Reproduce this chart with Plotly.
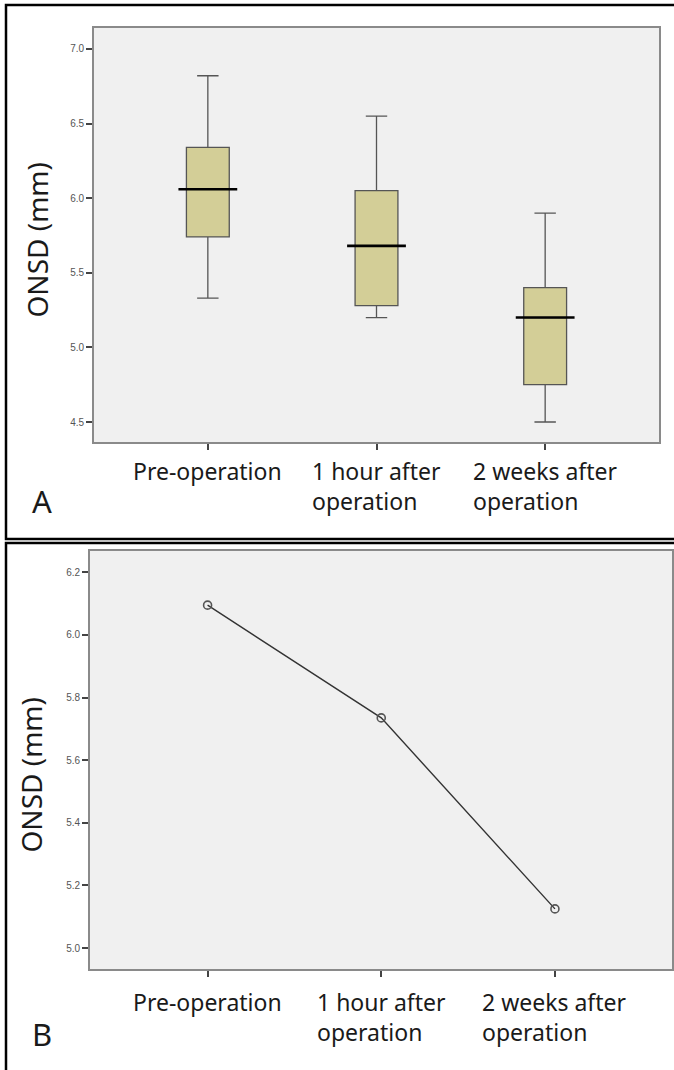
import plotly.graph_objects as go

# ---- data ----
categories = ["Pre-operation", "1 hour after operation", "2 weeks after operation"]
cat_labels = ["Pre-operation", "1 hour after<br>operation", "2 weeks after<br>operation"]

# Panel A: box plot summary statistics (mm)
box_upper = [6.82, 6.55, 5.90]
box_q3 = [6.34, 6.05, 5.40]
box_median = [6.06, 5.68, 5.20]
box_q1 = [5.74, 5.28, 4.75]
box_lower = [5.33, 5.20, 4.50]

# Panel B: mean ONSD (mm)
mean_onsd = [6.095, 5.735, 5.125]

W, H = 674, 1070


def px_x(p):
    return p / W


def px_y(p):
    return 1 - p / H


fig = go.Figure()

fig.add_trace(go.Box(
    x=categories, q1=box_q1, median=box_median, q3=box_q3,
    lowerfence=box_lower, upperfence=box_upper,
    fillcolor="#D3CE97", line=dict(color="#555555", width=1.3),
    width=0.254, whiskerwidth=0.5, boxpoints=False,
    xaxis="x", yaxis="y", showlegend=False, hoverinfo="skip",
))
# thick black median lines
fig.add_trace(go.Scatter(
    x=categories, y=box_median, mode="markers",
    marker=dict(symbol="line-ew-open", size=42, color="black",
                line=dict(color="black", width=2.6)),
    xaxis="x", yaxis="y", showlegend=False, hoverinfo="skip",
))

fig.add_trace(go.Scatter(
    x=categories, y=mean_onsd, mode="lines+markers",
    line=dict(color="#333333", width=1.4),
    marker=dict(symbol="circle-open", size=8, color="#555555", line=dict(width=1.6)),
    xaxis="x2", yaxis="y2", showlegend=False, hoverinfo="skip",
))

axis_common = dict(showgrid=False, zeroline=False, showline=True, mirror=True,
                   linecolor="#8a8a8a", linewidth=1.6, ticks="outside", ticklen=6,
                   tickwidth=1.5, tickcolor="#444444")

tickfont = dict(family="Liberation Sans Narrow, Liberation Sans, Arial", size=10, color="#555555")

fig.update_layout(
    width=W, height=H, autosize=False,
    margin=dict(l=0, r=0, t=0, b=0),
    paper_bgcolor="white", plot_bgcolor="#F0F0F0",
    xaxis=dict(domain=[px_x(94), px_x(659)], anchor="y", type="category",
               range=[-0.675, 2.675], showticklabels=False, **axis_common),
    yaxis=dict(domain=[px_y(442), px_y(28)], anchor="x", range=[4.366, 7.14],
               dtick=0.5, tick0=4.5, tickformat=".1f", tickfont=tickfont, **axis_common),
    xaxis2=dict(domain=[px_x(90), px_x(672)], anchor="y2", type="category",
                range=[-0.677, 2.674], showticklabels=False, **axis_common),
    yaxis2=dict(domain=[px_y(969), px_y(551)], anchor="x2", range=[4.933, 6.268],
                dtick=0.2, tick0=5.0, tickformat=".1f", tickfont=tickfont, **axis_common),
)

label_font = dict(family="Noto Sans, Open Sans, Liberation Sans", size=23, color="#1a1a1a")
ann = []
for c, lab in zip(categories, cat_labels):
    ann.append(dict(x=c, xref="x", y=px_y(453), yref="paper", text=lab, showarrow=False,
                    xanchor="center", yanchor="top", align="left", font=label_font))
    ann.append(dict(x=c, xref="x2", y=px_y(984), yref="paper", text=lab, showarrow=False,
                    xanchor="center", yanchor="top", align="left", font=label_font))

title_font = dict(family="Noto Sans, Open Sans, Liberation Sans", size=28, color="#1a1a1a")
ann.append(dict(x=px_x(36.5), y=px_y(240), xref="paper", yref="paper", text="ONSD (mm)",
                textangle=-90, showarrow=False, xanchor="center", yanchor="middle", font=title_font))
ann.append(dict(x=px_x(30.5), y=px_y(775), xref="paper", yref="paper", text="ONSD (mm)",
                textangle=-90, showarrow=False, xanchor="center", yanchor="middle", font=title_font))

panel_font = dict(family="Noto Sans, Open Sans, Liberation Sans", size=31, color="#1a1a1a")
ann.append(dict(x=px_x(30), y=px_y(501), xref="paper", yref="paper", text="A", showarrow=False,
                xanchor="left", yanchor="middle", font=panel_font))
ann.append(dict(x=px_x(30), y=px_y(1034), xref="paper", yref="paper", text="B", showarrow=False,
                xanchor="left", yanchor="middle", font=panel_font))
fig.update_layout(annotations=ann)

# panel frames
fig.add_shape(type="rect", xref="paper", yref="paper", x0=px_x(6), x1=1.05,
              y0=px_y(539), y1=px_y(5), line=dict(color="black", width=2.5), layer="above")
fig.add_shape(type="rect", xref="paper", yref="paper", x0=px_x(6), x1=1.05,
              y0=-0.05, y1=px_y(543), line=dict(color="black", width=2.5), layer="above")

fig.write_html("out.html", config={"displayModeBar": False},
               post_script="document.body.style.margin='0';document.body.style.overflow='hidden';")
